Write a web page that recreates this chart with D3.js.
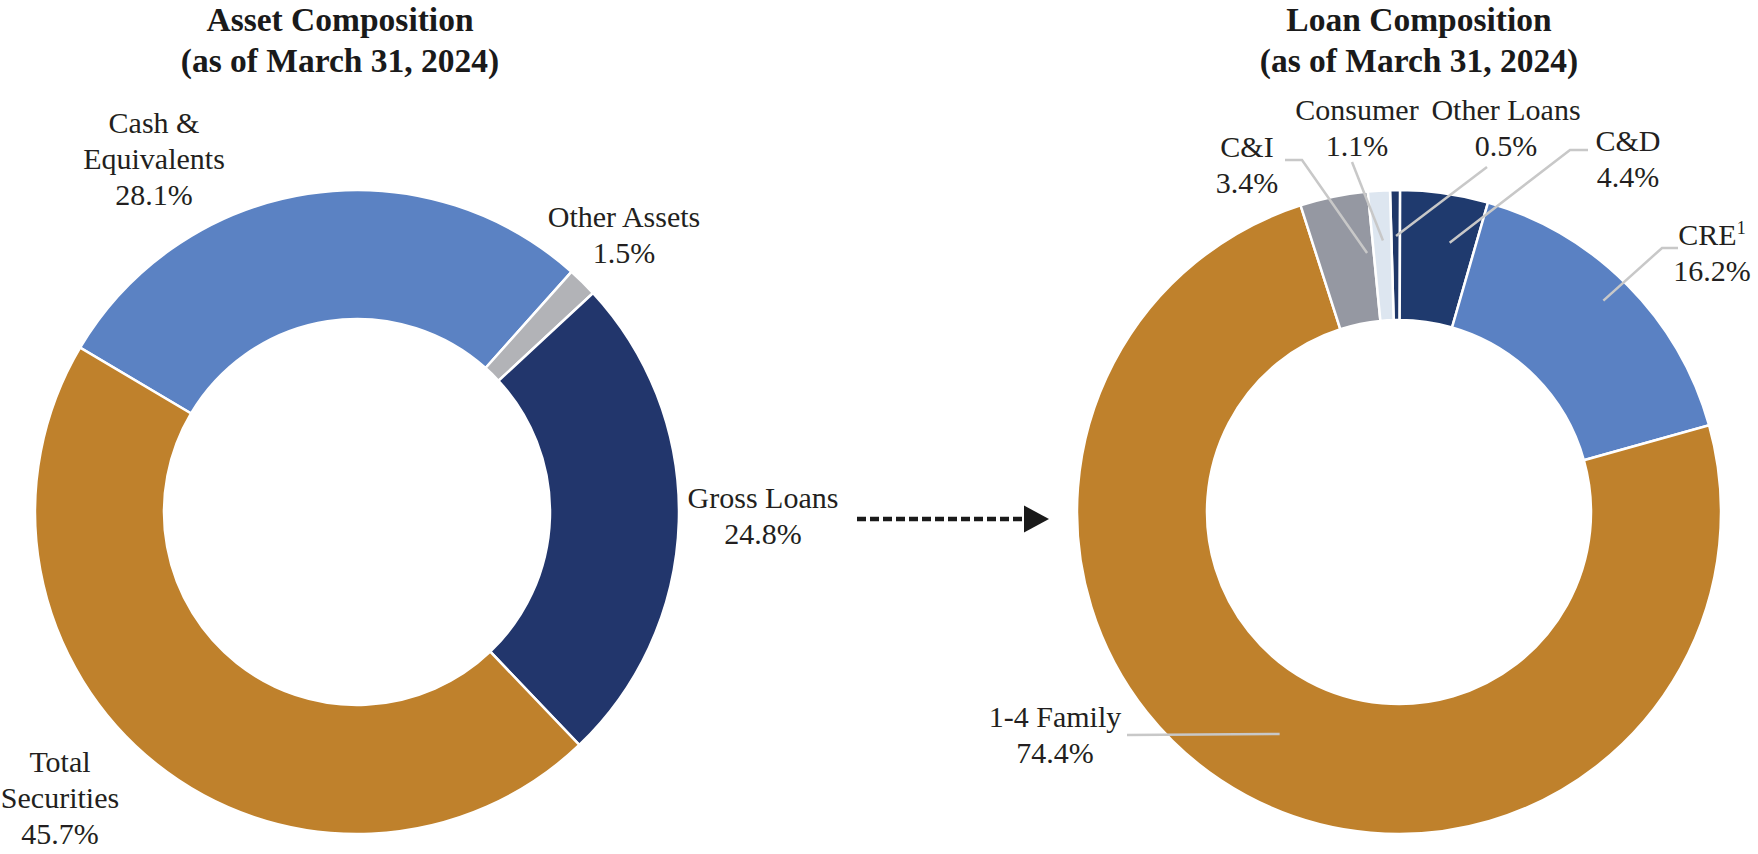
<!DOCTYPE html>
<html>
<head>
<meta charset="utf-8">
<script src="https://cdn.jsdelivr.net/npm/d3@7"></script>
<style>
  html, body { margin: 0; padding: 0; background: #fff; }
  svg { display: block; }
  text { font-family: "Liberation Serif", "Times New Roman", serif; fill: #231f20; }
</style>
</head>
<body>
<svg id="chart" width="1758" height="854"></svg>
<script>
// ---------------- DATA ----------------
const assetCategories = ["Cash & Equivalents", "Other Assets", "Gross Loans", "Total Securities"];
const assetValues = [28.1, 1.5, 24.8, 45.7];
const assetColors = ["#5b82c3", "#b2b3b7", "#22366c", "#bf812c"];

const loanCategories = ["Other Loans", "C&D", "CRE", "1-4 Family", "C&I", "Consumer"];
const loanValues = [0.5, 4.4, 16.2, 74.4, 3.4, 1.1];
const loanColors = ["#1f3768", "#1f3a6e", "#5a81c3", "#bf812c", "#9598a2", "#dde6f0"];

const titles = {
  asset: ["Asset Composition", "(as of March 31, 2024)"],
  loan: ["Loan Composition", "(as of March 31, 2024)"]
};

// ---------------- LAYOUT ----------------
const svg = d3.select("#chart");
const fmt = v => d3.format(".1f")(v) + "%";
const rad = deg => deg * Math.PI / 180;
const LINE_H = 36;

const donuts = [
  {
    key: "asset", cx: 357, cy: 512, rOuter: 322, rInner: 193, start: -59.3,
    cats: assetCategories, vals: assetValues, colors: assetColors, titleX: 340,
    labels: {
      "Cash & Equivalents": { lines: ["Cash &", "Equivalents"], x: 154, y: 133 },
      "Other Assets": { lines: ["Other Assets"], x: 624, y: 227 },
      "Gross Loans": { lines: ["Gross Loans"], x: 763, y: 508 },
      "Total Securities": { lines: ["Total", "Securities"], x: 60, y: 772 }
    }
  },
  {
    key: "loan", cx: 1399, cy: 512, rOuter: 322, rInner: 192, start: -1.6,
    cats: loanCategories, vals: loanValues, colors: loanColors, titleX: 1419,
    labels: {
      "Other Loans": { lines: ["Other Loans"], x: 1506, y: 120, leader: [[1487, 167]], r: 276, t: 0.55 },
      "Consumer": { lines: ["Consumer"], x: 1357, y: 120, leader: [[1352, 162]], r: 272, t: 0.55 },
      "C&I": { lines: ["C&I"], x: 1247, y: 157, leader: [[1285, 160], [1302, 160]], r: 261, t: 0.88 },
      "C&D": { lines: ["C&D"], x: 1628, y: 151, leader: [[1588, 150], [1570, 150]], r: 274, t: 0.66 },
      "CRE": { lines: ["CRE"], sup: "1", x: 1712, y: 245, leader: [[1678, 248], [1662, 248]], r: 294, t: 0.48 },
      "1-4 Family": { lines: ["1-4 Family"], x: 1055, y: 727, leader: [[1127, 735]], r: 252, t: 0.5 }
    }
  }
];

donuts.forEach(dn => {
  const data = dn.cats.map((c, i) => ({ cat: c, v: dn.vals[i], color: dn.colors[i] }));
  const pie = d3.pie().sort(null).value(d => d.v)
    .startAngle(rad(dn.start)).endAngle(rad(dn.start) + 2 * Math.PI);
  const arcs = pie(data);
  const arc = d3.arc().innerRadius(dn.rInner).outerRadius(dn.rOuter);

  const g = svg.append("g").attr("transform", `translate(${dn.cx},${dn.cy})`);
  g.selectAll("path.slice").data(arcs).join("path")
    .attr("class", "slice")
    .attr("d", arc)
    .attr("fill", d => d.data.color)
    .attr("stroke", "#fff")
    .attr("stroke-width", 2.5)
    .attr("stroke-linejoin", "miter");

  // title
  const tt = svg.append("text")
    .attr("x", dn.titleX).attr("y", 31)
    .attr("text-anchor", "middle")
    .style("font-size", "33.5px").style("font-weight", "bold").style("fill", "#1a1a1a");
  titles[dn.key].forEach((line, i) => {
    tt.append("tspan").attr("x", dn.titleX).attr("y", 31 + i * 41).text(line);
  });

  // labels and leader lines
  arcs.forEach(a => {
    const L = dn.labels[a.data.cat];
    if (!L) return;
    if (L.leader) {
      const ang = a.startAngle + (a.endAngle - a.startAngle) * L.t;
      const ax = dn.cx + L.r * Math.sin(ang);
      const ay = dn.cy - L.r * Math.cos(ang);
      const pts = L.leader.concat([[ax, ay]]);
      svg.append("path")
        .attr("d", d3.line()(pts))
        .attr("fill", "none")
        .attr("stroke", "#c8c8c8")
        .attr("stroke-width", 2.5);
    }
    const txt = svg.append("text")
      .attr("text-anchor", "middle")
      .style("font-size", "30px");
    const lines = L.lines.concat([fmt(a.data.v)]);
    lines.forEach((line, i) => {
      const ts = txt.append("tspan").attr("x", L.x).attr("y", L.y + i * LINE_H);
      if (i === 0 && L.sup) {
        ts.append("tspan").text(line);
        ts.append("tspan").attr("dy", -11).style("font-size", "18px").text(L.sup);
      } else {
        ts.text(line);
      }
    });
  });
});

// ---------------- ARROW between donuts ----------------
const arrowY = 519;
svg.append("line")
  .attr("x1", 857).attr("x2", 1026).attr("y1", arrowY).attr("y2", arrowY)
  .attr("stroke", "#1a1a1a").attr("stroke-width", 4.5)
  .attr("stroke-dasharray", "9,4");
svg.append("path")
  .attr("d", d3.line()([[1024, arrowY - 13.5], [1049, arrowY], [1024, arrowY + 13.5]]) + "Z")
  .attr("fill", "#1a1a1a");
</script>
</body>
</html>
